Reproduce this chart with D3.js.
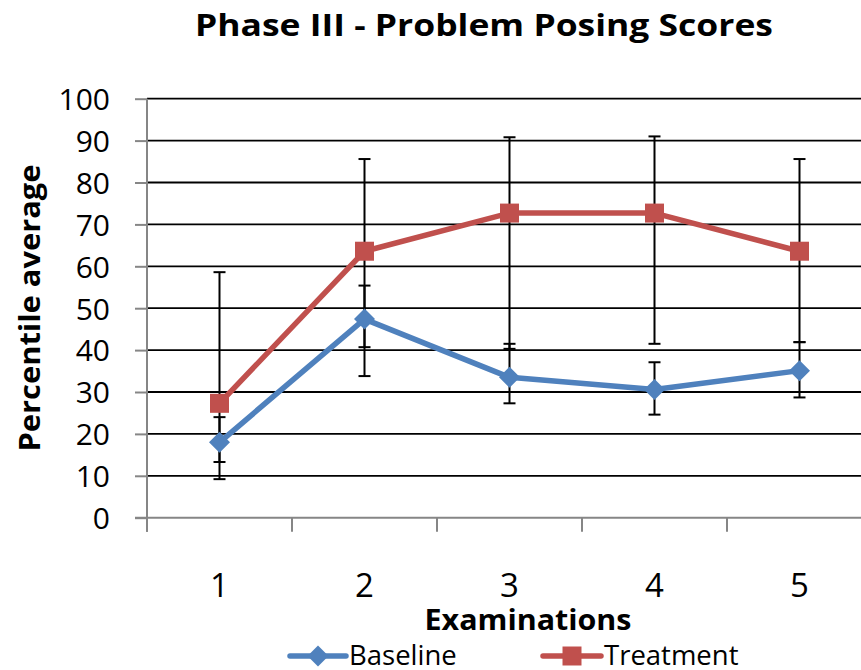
<!DOCTYPE html>
<html>
<head>
<meta charset="utf-8">
<script src="https://cdn.jsdelivr.net/npm/d3@7"></script>
<style>
  html, body { margin: 0; padding: 0; background: #fff; }
  svg { display: block; font-family: "Open Sans", "Noto Sans", sans-serif; }
</style>
</head>
<body>
<svg id="chart" width="861" height="670"></svg>
<script>
// Examination categories
const categories = ["1", "2", "3", "4", "5"];

// Baseline group: mean percentile and error bar ends
const baselineValues = [18.0, 47.4, 33.5, 30.6, 35.1];
const baselineUpper  = [24.0, 55.4, 41.5, 37.1, 41.9];
const baselineLower  = [13.3, 33.8, 27.3, 24.6, 28.7];

// Treatment group: mean percentile and error bar ends
const treatmentValues = [27.3, 63.6, 72.7, 72.7, 63.6];
const treatmentUpper  = [58.6, 85.6, 90.8, 91.0, 85.6];
const treatmentLower  = [9.2, 40.7, 40.3, 41.5, 41.9];

// Y axis ticks
const yTicks = [0, 10, 20, 30, 40, 50, 60, 70, 80, 90, 100];

const series = [
  { name: "Baseline", color: "#4F81BD", marker: "diamond",
    values: baselineValues, upper: baselineUpper, lower: baselineLower },
  { name: "Treatment", color: "#C0504D", marker: "square",
    values: treatmentValues, upper: treatmentUpper, lower: treatmentLower }
];

const svg = d3.select("#chart");
const plot = { left: 147, right: 872, top: 98.7, bottom: 517.7 };

const x = d3.scaleBand().domain(categories).range([plot.left, plot.right]).padding(0);
const y = d3.scaleLinear().domain([0, 100]).range([plot.bottom, plot.top]);

// Title
svg.append("text")
  .attr("x", 484).attr("y", 36)
  .attr("text-anchor", "middle")
  .attr("font-weight", "bold")
  .attr("font-size", 30.5)
  .attr("textLength", 578)
  .attr("lengthAdjust", "spacingAndGlyphs")
  .text("Phase III - Problem Posing Scores");

// Horizontal gridlines
svg.append("g")
  .selectAll("line")
  .data(yTicks.filter(d => d > 0))
  .join("line")
  .attr("x1", plot.left).attr("x2", 861)
  .attr("y1", d => y(d)).attr("y2", d => y(d))
  .attr("stroke", "#000").attr("stroke-width", 1.8);

// Y axis
const yAxis = svg.append("g")
  .attr("transform", `translate(${plot.left},0)`)
  .call(d3.axisLeft(y).tickValues(yTicks).tickSize(12).tickPadding(24));
yAxis.select(".domain").attr("stroke", "#868686").attr("stroke-width", 2)
  .attr("d", `M0,${plot.top}V${plot.bottom + 14}`);
yAxis.selectAll(".tick line").attr("stroke", "#868686").attr("stroke-width", 2);
yAxis.selectAll(".tick text")
  .attr("font-size", 30).attr("fill", "#000")
  .attr("font-family", "Open Sans, sans-serif").attr("dy", "0.36em")
  .attr("dx", "-1");

// X axis with ticks on category boundaries
const xAxisG = svg.append("g").attr("transform", `translate(0,${plot.bottom})`);
xAxisG.append("line")
  .attr("x1", plot.left - 12).attr("x2", 861)
  .attr("stroke", "#868686").attr("stroke-width", 2);
xAxisG.selectAll(".xtick")
  .data(categories)
  .join("line")
  .attr("class", "xtick")
  .attr("x1", d => x(d)).attr("x2", d => x(d))
  .attr("y1", 0).attr("y2", 14)
  .attr("stroke", "#868686").attr("stroke-width", 2);
xAxisG.selectAll(".xlabel")
  .data(categories)
  .join("text")
  .attr("class", "xlabel")
  .attr("x", d => x(d) + x.bandwidth() / 2)
  .attr("y", 79)
  .attr("text-anchor", "middle")
  .attr("font-size", 33)
  .text(d => d);

// Axis titles
svg.append("text")
  .attr("x", 528).attr("y", 630)
  .attr("text-anchor", "middle")
  .attr("font-weight", "bold")
  .attr("font-size", 28)
  .attr("textLength", 207)
  .attr("lengthAdjust", "spacingAndGlyphs")
  .text("Examinations");

svg.append("text")
  .attr("transform", "translate(40,308) rotate(-90)")
  .attr("text-anchor", "middle")
  .attr("font-weight", "bold")
  .attr("font-size", 28)
  .attr("textLength", 287)
  .attr("lengthAdjust", "spacingAndGlyphs")
  .text("Percentile average");

const cx = d => x(d) + x.bandwidth() / 2;
const capW = 6;

// Error bars
series.forEach(s => {
  const g = svg.append("g");
  categories.forEach((c, i) => {
    g.append("line")
      .attr("x1", cx(c)).attr("x2", cx(c))
      .attr("y1", y(s.upper[i])).attr("y2", y(s.lower[i]))
      .attr("stroke", "#000").attr("stroke-width", 2);
    [s.upper[i], s.lower[i]].forEach(v => {
      g.append("line")
        .attr("x1", cx(c) - capW).attr("x2", cx(c) + capW)
        .attr("y1", y(v)).attr("y2", y(v))
        .attr("stroke", "#000").attr("stroke-width", 2);
    });
  });
});

// Marker shapes
function markerPath(type, size) {
  const h = size / 2;
  if (type === "diamond") return `M0,${-h}L${h},0L0,${h}L${-h},0Z`;
  return `M${-h},${-h}H${h}V${h}H${-h}Z`;
}

// Series lines and markers
const line = d3.line().x((d, i) => cx(categories[i])).y(d => y(d));
series.forEach(s => {
  svg.append("path")
    .datum(s.values)
    .attr("d", line)
    .attr("fill", "none")
    .attr("stroke", s.color)
    .attr("stroke-width", 5.5)
    .attr("stroke-linejoin", "round");
  svg.append("g")
    .selectAll("path")
    .data(s.values)
    .join("path")
    .attr("transform", (d, i) => `translate(${cx(categories[i])},${y(d)})`)
    .attr("d", markerPath(s.marker, s.marker === "diamond" ? 21 : 19))
    .attr("fill", s.color);
});

// Legend
const legendItems = [
  { s: series[0], x1: 290, x2: 346, tx: 349 },
  { s: series[1], x1: 543, x2: 601, tx: 604 }
];
const ly = 656;
legendItems.forEach(item => {
  const g = svg.append("g");
  g.append("line")
    .attr("x1", item.x1).attr("x2", item.x2)
    .attr("y1", ly).attr("y2", ly)
    .attr("stroke", item.s.color).attr("stroke-width", 5.5)
    .attr("stroke-linecap", "round");
  g.append("path")
    .attr("transform", `translate(${(item.x1 + item.x2) / 2},${ly})`)
    .attr("d", markerPath(item.s.marker, item.s.marker === "diamond" ? 21 : 19))
    .attr("fill", item.s.color);
  g.append("text")
    .attr("x", item.tx).attr("y", ly + 9)
    .attr("font-size", 27.5)
    .text(item.s.name);
});
</script>
</body>
</html>
